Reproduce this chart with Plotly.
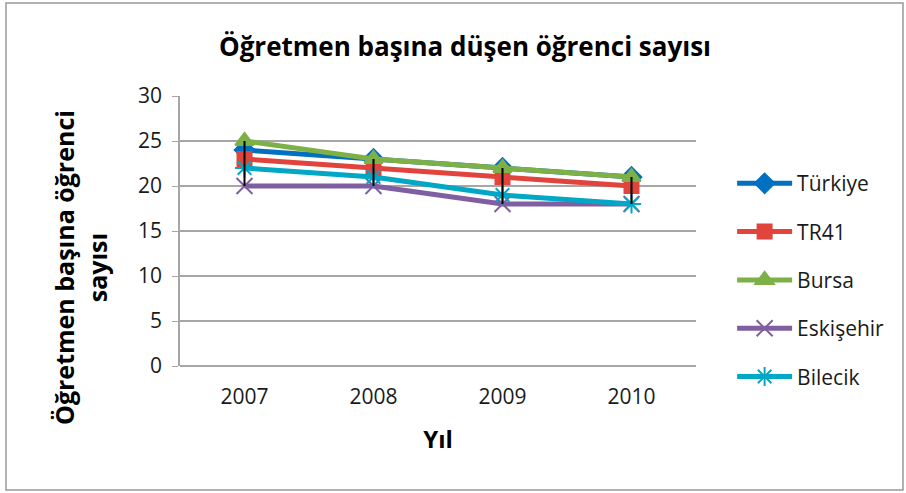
import plotly.graph_objects as go

years = ["2007", "2008", "2009", "2010"]
turkiye = [24, 23, 22, 21]
tr41 = [23, 22, 21, 20]
bursa = [25, 23, 22, 21]
eskisehir = [20, 20, 18, 18]
bilecik = [22, 21, 19, 18]

series = [
    ("Türkiye", turkiye, "#0070C0", "diamond", 15),
    ("TR41", tr41, "#E0443C", "square", 14),
    ("Bursa", bursa, "#7DB046", "triangle-up", 16),
    ("Eskişehir", eskisehir, "#7F5FA1", "x-thin-open", 16),
    ("Bilecik", bilecik, "#00A8C6", "asterisk-open", 16),
]

fig = go.Figure()
for name, vals, color, sym, size in series:
    fig.add_trace(go.Scatter(
        x=years, y=vals, name=name, mode="lines+markers", legendgroup=name,
        line=dict(color=color, width=5),
        marker=dict(symbol=sym, size=size, color=color,
                    line=dict(color=color, width=2)),
    ))

# high-low lines (max to min in each year)
allv = [turkiye, tr41, bursa, eskisehir, bilecik]
hx, hy = [], []
for i, yr in enumerate(years):
    col = [s[i] for s in allv]
    hx += [yr, yr, None]
    hy += [max(col), min(col), None]
fig.add_trace(go.Scatter(x=hx, y=hy, mode="lines", showlegend=False,
                         line=dict(color="black", width=2), hoverinfo="skip"))

fig.update_layout(
    width=906, height=493,
    margin=dict(l=180, r=210, t=96, b=127, autoexpand=False),
    paper_bgcolor="white", plot_bgcolor="white",
    font=dict(family="Open Sans", size=21, color="#1a1a1a"),
    title=dict(text="<b>Öğretmen başına düşen öğrenci sayısı</b>",
               x=465 / 906, xanchor="center", y=1 - 47 / 493, yanchor="middle",
               font=dict(size=26, color="black")),
    showlegend=True,
    legend=dict(x=1.07, y=0.318, yanchor="middle", xanchor="left",
                font=dict(size=21, color="#1a1a1a"), tracegroupgap=18,
                itemwidth=55, bgcolor="rgba(0,0,0,0)"),
    shapes=[dict(type="rect", xref="paper", yref="paper",
                 x0=(6 - 180) / 516, x1=(903 - 180) / 516,
                 y0=(366 - 490) / 270, y1=(366 - 3) / 270,
                 line=dict(color="#999999", width=1.5))],
    annotations=[dict(text="<b>Öğretmen başına öğrenci<br>sayısı</b>",
                      xref="paper", yref="paper", textangle=-90,
                      x=(80 - 180) / 516, y=(366 - 268) / 270,
                      xanchor="center", yanchor="middle", showarrow=False,
                      font=dict(size=25, color="black"))],
)
fig.update_xaxes(
    range=[-0.5, 3.5], showgrid=False, showline=False, ticks="",
    automargin=False, ticklabelstandoff=16,
    title=dict(text="<b>Yıl</b>", font=dict(size=24, color="black"), standoff=22),
)
fig.update_yaxes(
    range=[0, 30], dtick=5, showgrid=True, gridcolor="#A6A6A6", gridwidth=1.5,
    zeroline=True, zerolinecolor="#A6A6A6", zerolinewidth=1.5,
    showline=True, linecolor="#A6A6A6", linewidth=1.5,
    ticks="outside", ticklen=6, tickcolor="#A6A6A6", automargin=False,
    ticklabelstandoff=6,
)

fig.write_html("out.html", config={"displayModeBar": False},
               post_script="document.body.style.margin='0';")
